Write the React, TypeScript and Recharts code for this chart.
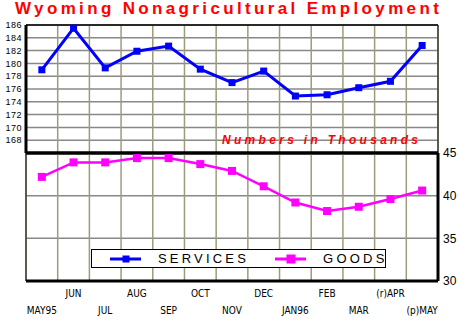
import {
  LineChart,
  Line,
  XAxis,
  YAxis,
  CartesianGrid,
  ReferenceLine,
} from "recharts";

// Months May 1995 – May 1996
const monthLabels = [
  "MAY95", "JUN", "JUL", "AUG", "SEP", "OCT", "NOV",
  "DEC", "JAN96", "FEB", "MAR", "(r)APR", "(p)MAY",
];

// Employment in thousands
const servicesValues = [
  179.0, 185.5, 179.3, 181.9, 182.7, 179.1, 177.0,
  178.8, 174.9, 175.1, 176.2, 177.2, 182.8,
];
const goodsValues = [
  42.2, 43.9, 43.9, 44.4, 44.4, 43.7, 42.9,
  41.1, 39.2, 38.2, 38.7, 39.6, 40.6,
];

const servicesTicks = [168, 170, 172, 174, 176, 178, 180, 182, 184, 186];
const goodsTicks = [30, 35, 40, 45];
const boundaryTicks = Array.from({ length: 14 }, (_, i) => i);
const centerTicks = monthLabels.map((_, i) => i + 0.5);

const data = monthLabels.map((m, i) => ({
  x: i + 0.5,
  month: m,
  services: servicesValues[i],
  goods: goodsValues[i],
}));

const BLUE = "#0000ff";
const MAGENTA = "#ff00ff";
const H_GRID = "#888888";
const V_GRID = "#9c9c7c";

function SquareDot({ cx, cy, fill, size }: any) {
  if (cx == null || cy == null) return null;
  return <rect x={cx - size / 2} y={cy - size / 2} width={size} height={size} fill={fill} />;
}

// Staggered month labels: even months on the lower row
function MonthTick({ x, y, payload }: any) {
  const i = Math.round(payload.value - 0.5);
  const lower = i % 2 === 0;
  return (
    <text
      x={x}
      y={y + (lower ? 33 : 16)}
      textAnchor="middle"
      fontFamily="'Liberation Sans Narrow', 'DejaVu Sans Condensed', sans-serif"
      fontSize={10}
      fill="#000"
    >
      {monthLabels[i]}
    </text>
  );
}

function LegendItem({ color, size, label }: { color: string; size: number; label: string }) {
  return (
    <div style={{ display: "flex", alignItems: "center" }}>
      <svg width={32} height={10} style={{ display: "block" }}>
        <line x1={0} y1={5} x2={31} y2={5} stroke={color} strokeWidth={3} />
        <rect x={16 - size / 2} y={5 - size / 2} width={size} height={size} fill={color} />
      </svg>
      <span style={{ marginLeft: 16, letterSpacing: 3.2, fontSize: 13 }}>{label}</span>
    </div>
  );
}

export default function App() {
  return (
    <div
      style={{
        position: "fixed",
        left: 0,
        top: 0,
        width: 460,
        height: 320,
        background: "#fff",
        fontFamily: "'Liberation Sans', Arial, sans-serif",
        overflow: "hidden",
      }}
    >
      <div
        style={{
          position: "absolute",
          left: 15,
          top: 0,
          lineHeight: "17px",
          color: "#ff0000",
          fontWeight: "bold",
          fontSize: 17,
          letterSpacing: 3.35,
          whiteSpace: "nowrap",
        }}
      >
        Wyoming Nonagricultural Employment
      </div>

      {/* Services */}
      <div style={{ position: "absolute", left: 0, top: 0 }}>
        <LineChart
          width={460}
          height={160}
          data={data}
          margin={{ top: 25, right: 22, left: 0, bottom: 7 }}
        >
          <XAxis type="number" dataKey="x" domain={[0, 13]} ticks={boundaryTicks} hide />
          <YAxis
            domain={[166, 186]}
            ticks={servicesTicks}
            width={26}
            tickLine={false}
            tickSize={0}
            tickMargin={4}
            axisLine={{ stroke: "#000", strokeWidth: 3 }}
            tick={{ fontSize: 9, fill: "#000", letterSpacing: 0.5 }}
            interval={0}
          />
          <CartesianGrid vertical={false} stroke={H_GRID} strokeWidth={1.5} />
          <CartesianGrid horizontal={false} stroke={V_GRID} strokeWidth={1.5} />
          <ReferenceLine y={186} stroke="#000" strokeWidth={1.5} />
          <ReferenceLine x={13} stroke="#000" strokeWidth={1} />
          <ReferenceLine y={166} stroke="#000" strokeWidth={3} />
          <Line
            dataKey="services"
            stroke={BLUE}
            strokeWidth={3}
            dot={<SquareDot fill={BLUE} size={7} />}
            isAnimationActive={false}
          />
        </LineChart>
      </div>

      <div
        style={{
          position: "absolute",
          left: 222,
          top: 133,
          color: "#ff0000",
          fontWeight: "bold",
          fontStyle: "italic",
          fontSize: 12,
          letterSpacing: 3.3,
          whiteSpace: "nowrap",
        }}
      >
        Numbers in Thousands
      </div>

      {/* Goods */}
      <div style={{ position: "absolute", left: 0, top: 140 }}>
        <LineChart
          width={460}
          height={180}
          data={data}
          margin={{ top: 13, right: 0, left: 26, bottom: 0 }}
        >
          <XAxis
            xAxisId="grid"
            type="number"
            dataKey="x"
            domain={[0, 13]}
            ticks={boundaryTicks}
            hide
          />
          <XAxis
            type="number"
            dataKey="x"
            domain={[0, 13]}
            ticks={centerTicks}
            interval={0}
            height={39}
            tickLine={false}
            tickSize={0}
            tickMargin={0}
            axisLine={{ stroke: "#000", strokeWidth: 3 }}
            tick={<MonthTick />}
          />
          <YAxis
            orientation="right"
            domain={[30, 45]}
            ticks={goodsTicks}
            width={22}
            tickLine={false}
            tickSize={0}
            tickMargin={5}
            axisLine={{ stroke: "#000", strokeWidth: 3 }}
            tick={{ fontSize: 12, fill: "#000" }}
          />
          <CartesianGrid vertical={false} stroke={H_GRID} strokeWidth={1.5} horizontalValues={[35, 40]} />
          <CartesianGrid horizontal={false} xAxisId="grid" stroke={V_GRID} strokeWidth={1.5} />
          <ReferenceLine y={45} stroke="#000" strokeWidth={3} />
          <ReferenceLine x={0} stroke="#000" strokeWidth={1} />
          <Line
            dataKey="goods"
            stroke={MAGENTA}
            strokeWidth={2.5}
            dot={<SquareDot fill={MAGENTA} size={8} />}
            isAnimationActive={false}
          />
        </LineChart>
      </div>

      {/* Legend */}
      <div
        style={{
          position: "absolute",
          left: 91,
          top: 249,
          width: 293,
          height: 17,
          border: "1.5px solid #000",
          background: "#fff",
          display: "flex",
          alignItems: "center",
        }}
      >
        <div style={{ marginLeft: 18 }}>
          <LegendItem color={BLUE} size={7} label="SERVICES" />
        </div>
        <div style={{ marginLeft: 26 }}>
          <LegendItem color={MAGENTA} size={9} label="GOODS" />
        </div>
      </div>
    </div>
  );
}
